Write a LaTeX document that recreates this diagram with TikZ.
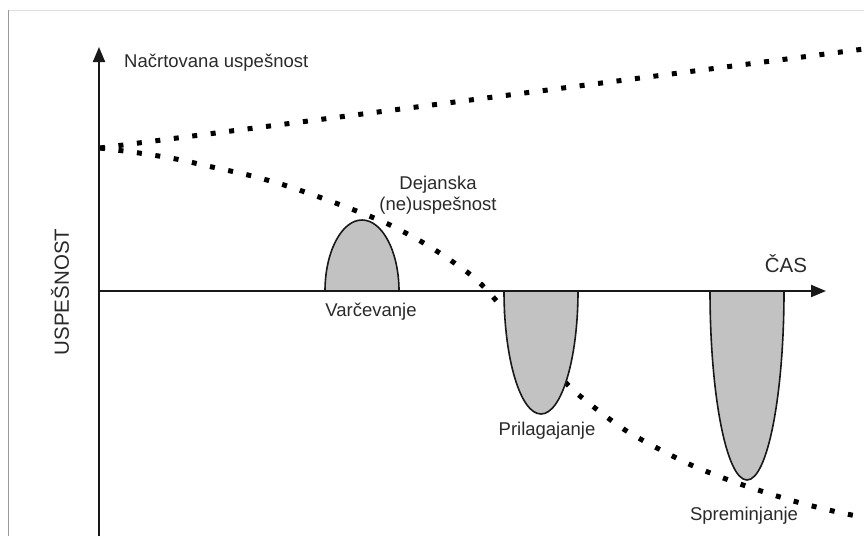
\documentclass[tikz,border=0pt]{standalone}
\usepackage{fontspec}
\setmainfont{Liberation Sans}
\usepackage{xcolor}
\usetikzlibrary{arrows.meta,positioning}

\definecolor{regiongray}{HTML}{C2C2C2}
\definecolor{textgray}{HTML}{2A2A2A}

\begin{document}
\begin{tikzpicture}[
  x=1pt, y=-1pt,
  axis/.style={line width=2pt, draw=black!90, -{Triangle[length=15pt, width=12pt]}},
  dotline/.style={line width=5pt, black, dash pattern=on 5pt off 13.6pt},
  region/.style={draw=black!90, line width=1.6pt, fill=regiongray},
  lbl/.style={inner sep=0pt, text=textgray, font=\fontsize{18.5}{21}\selectfont, align=center},
  biglbl/.style={lbl, font=\fontsize{20.5}{23}\selectfont},
  frame/.style={line width=1pt}
]
\useasboundingbox (0,0) rectangle (864,536);

% page frame
\draw[frame, black!12] (8,10) -- (864,10);
\draw[frame, black!40] (8,10) -- (8,536);

% axis end points
\coordinate (ybot) at (99,536);
\coordinate (ytop) at (99,47);
\coordinate (origin) at (99,291);
\coordinate (xend) at (826,291);

% planned and actual performance
\draw[dotline] (100,148) -- (864,49);
\draw[dotline] plot[smooth] coordinates {(100,148) (139,153) (176,159) (212,167) (248,175)
  (284,185) (319,197) (354,210) (388,224) (422,242) (453,262) (482,285) (531,341)
  (567,384) (595,408) (625,430) (657,448) (691,465) (726,479) (761,491) (797,502)
  (833,511) (866,518)};

% regions
\draw[region] (325,291) .. controls (325,252) and (341.5,220) .. (362,220)
  .. controls (382.5,220) and (399,252) .. (399,291) -- cycle;
\draw[region] (504,291) .. controls (504,359) and (520.5,414) .. (541,414)
  .. controls (561.5,414) and (578,359) .. (578,291) -- cycle;
\draw[region] (710,291) .. controls (710,395) and (726.5,480) .. (747,480)
  .. controls (767.5,480) and (784,395) .. (784,291) -- cycle;

% axes
\draw[axis] (ybot) -- (ytop);
\draw[axis] (origin) -- (xend);

% labels
\node[lbl, anchor=west] (planned) at (124,63) {Načrtovana uspešnost};
\node[biglbl, rotate=90] (yname) at (60,292) {USPEŠNOST};
\node[biglbl] (xname) at (786,264) {ČAS};
\node[lbl] (actual) at (438,195) {Dejanska\\(ne)uspešnost};
\node[lbl] (saving) at (371,312) {Varčevanje};
\node[lbl] (adapt) at (547,431) {Prilagajanje};
\node[lbl] (change) at (744,516) {Spreminjanje};
\end{tikzpicture}
\end{document}
